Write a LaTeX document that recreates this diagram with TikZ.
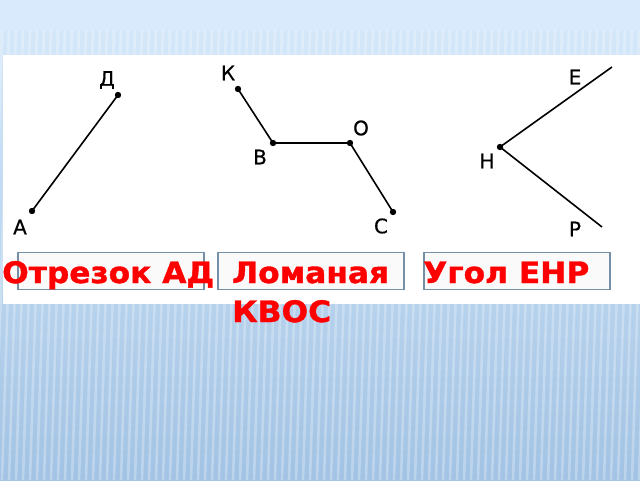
\documentclass[tikz,border=0pt]{standalone}
\usepackage{fontspec}
\setmainfont{DejaVu Sans}
\newfontfamily\lblfont[FakeBold=0.6]{DejaVu Sans}
\newfontfamily\capfont[FakeStretch=1.06,FakeBold=1.2]{DejaVu Sans Bold}
\usetikzlibrary{calc}
\definecolor{bgtop}{HTML}{D8EAFB}
\definecolor{bgbot}{HTML}{A2C3E4}
\definecolor{boxline}{HTML}{7590A6}
\definecolor{redtxt}{HTML}{FF0000}
\tikzset{
  seg/.style={line width=1.6pt, black},
  ptdot/.style={fill=black},
  plabel/.style={font=\lblfont\fontsize{20}{20}\selectfont, inner sep=0pt, anchor=center},
  answerbox/.style={draw=boxline, line width=1.4pt, fill=white!96!gray, minimum width=186pt, minimum height=37pt, inner sep=0pt},
  redlabel/.style={font=\capfont\fontsize{29.5}{39}\selectfont, text=redtxt, inner sep=0pt, anchor=base west, align=left}
}
\begin{document}
\begin{tikzpicture}[x=1pt,y=-1pt]
\useasboundingbox (0,0) rectangle (640,480);
% background
\shade[top color=bgtop, bottom color=bgbot] (0,0) rectangle (640,480);
\fill[bgtop] (0,0) rectangle (640,30);
\begin{scope}
\clip (0,30) rectangle (640,480);
\foreach \x in {-40,-33,...,680} {
  \draw[white, opacity=0.28, line width=2.6pt] (\x,480) -- (\x+14,30);
}
\end{scope}
% white panel
\fill[white] (3,55) rectangle (640,304);
% answer boxes
\node[answerbox] (b1) at (111,271) {};
\node[answerbox] (b2) at (311,271) {};
\node[answerbox] (b3) at (517,271) {};
% segment AD
\coordinate (A) at (32,211);
\coordinate (D) at (118,95);
\draw[seg] (A) -- (D);
\fill[ptdot] (A) circle (3.2pt);
\fill[ptdot] (D) circle (3.2pt);
\node[plabel] (lA) at (20,227) {А};
\node[plabel] (lD) at (107,80) {Д};
% polyline KBOC
\coordinate (K) at (238,89);
\coordinate (B) at (273,143);
\coordinate (O) at (350,143);
\coordinate (C) at (393,212);
\draw[seg] (K) -- (B) -- (O) -- (C);
\foreach \p in {K,B,O,C} \fill[ptdot] (\p) circle (3.2pt);
\node[plabel] (lK) at (228,73) {К};
\node[plabel] (lB) at (260,157) {В};
\node[plabel] (lO) at (361,128) {О};
\node[plabel] (lC) at (381,226) {С};
% angle EHP
\coordinate (E) at (612,67);
\coordinate (H) at (500,147);
\coordinate (P) at (602,227);
\draw[seg] (E) -- (H) -- (P);
\fill[ptdot] (H) circle (3.2pt);
\node[plabel] (lE) at (575,77) {Е};
\node[plabel] (lH) at (487,161) {Н};
\node[plabel] (lP) at (575,229) {Р};
% red captions
\node[redlabel] (t1) at (2,283) {Отрезок АД};
\node[redlabel] (t2) at (232,322) {Ломаная\\КВОС};
\node[redlabel] (t3) at (423,283) {Угол ЕНР};
\end{tikzpicture}
\end{document}
